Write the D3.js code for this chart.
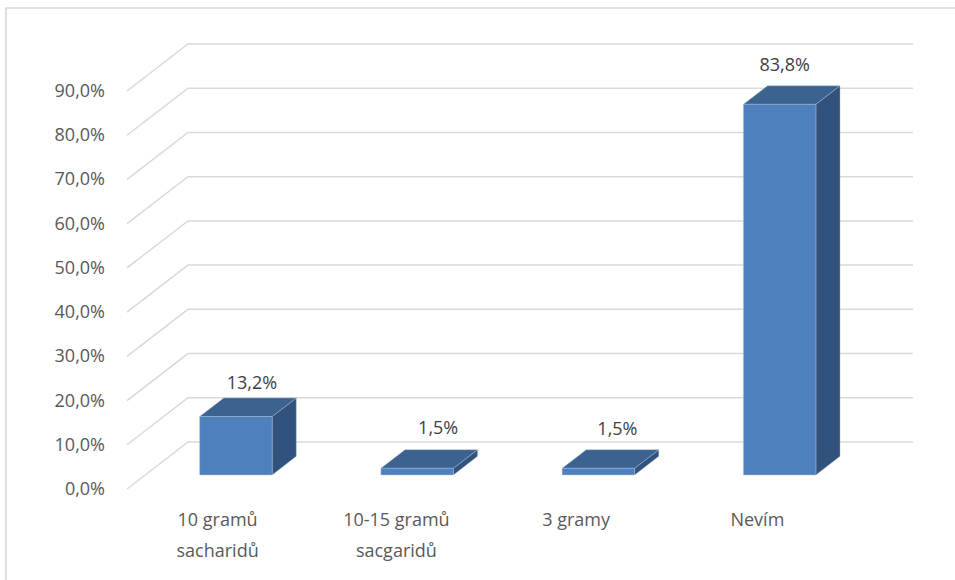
<!DOCTYPE html>
<html lang="cs">
<head>
<meta charset="utf-8">
<title>Sacharidy</title>
<style>
  html, body { margin: 0; padding: 0; background: #fff; }
  svg { display: block; }
  text { font-family: "Open Sans", "Noto Sans", sans-serif; }
</style>
</head>
<body>
<svg id="chart" width="955" height="580"></svg>
<script src="https://cdn.jsdelivr.net/npm/d3@7/dist/d3.min.js"></script>
<script>
// Chart values
const categories = ["10 gramů sacharidů", "10-15 gramů sacgaridů", "3 gramy", "Nevím"];
const categoryLines = [["10 gramů", "sacharidů"], ["10-15 gramů", "sacgaridů"], ["3 gramy"], ["Nevím"]];
const values = [13.2, 1.5, 1.5, 83.8];
const valueLabels = ["13,2%", "1,5%", "1,5%", "83,8%"];
const tickValues = [0, 10, 20, 30, 40, 50, 60, 70, 80, 90];
const tickLabels = ["0,0%", "10,0%", "20,0%", "30,0%", "40,0%", "50,0%", "60,0%", "70,0%", "80,0%", "90,0%"];

// Layout of the oblique projection
const depth = { dx: 61, dy: -47, barFront: 0.3, barBack: 0.695 };
const labelNudge = { x: [16, 21, 19, 5], y: [-9, -16, -15, -15] };
const categoryNudge = [0, -2.5, -4, -4];

const svg = d3.select("#chart");
const x = d3.scaleBand().domain(categories).range([127, 852]).paddingInner(0.6).paddingOuter(0.3);
const y = d3.scaleLinear().domain([0, 90]).range([489, 91]);

// Moves a point on the front plane back by z (0 = front, 1 = back wall)
const project = (px, py, z) => [px + depth.dx * z, py + depth.dy * z];
const pathOf = pts => "M" + pts.map(p => p.join(",")).join("L") + "Z";

// Chart frame: only the top and left edges fall inside the window
svg.append("path")
  .attr("d", "M6,582V8H957")
  .attr("fill", "none").attr("stroke", "#d9d9d9").attr("stroke-width", 1.6);

// Gridlines running along the side wall and then the back wall
svg.append("g").selectAll("path").data(tickValues).join("path")
  .attr("d", v => {
    const a = [x.range()[0], y(v)];
    const b = project(a[0], a[1], 1);
    return `M${a}L${b}H${x.range()[1] + depth.dx}`;
  })
  .attr("fill", "none").attr("stroke", "#d9d9d9").attr("stroke-width", 1.5);

// Value axis labels
svg.append("g").selectAll("text").data(tickValues).join("text")
  .attr("x", 105).attr("y", v => y(v) + 6)
  .attr("text-anchor", "end").attr("font-size", 18).attr("fill", "#595959")
  .text((v, i) => tickLabels[i]);

// Bars: side face, top face, then front face
const bars = svg.append("g").selectAll("g").data(categories).join("g");
const corners = (c, i) => {
  const l = x(c), r = l + x.bandwidth(), t = y(values[i]), b = y(0);
  return { l, r, t, b };
};
const edge = { stroke: "#a9bedb", "stroke-width": 0.6, "stroke-opacity": 0.7 };
const face = (sel, fill, pts) => sel.append("path")
  .attr("d", pts).attr("fill", fill)
  .attr("stroke", edge.stroke).attr("stroke-width", edge["stroke-width"]).attr("stroke-opacity", edge["stroke-opacity"]);

bars.each(function (c, i) {
  const g = d3.select(this), { l, r, t, b } = corners(c, i);
  const f = depth.barFront, k = depth.barBack;
  face(g, "#31527c", pathOf([project(r, t, f), project(r, t, k), project(r, b, k), project(r, b, f)]));
  face(g, "#3c6290", pathOf([project(l, t, f), project(l, t, k), project(r, t, k), project(r, t, f)]));
  face(g, "#4e80bd", pathOf([project(l, t, f), project(r, t, f), project(r, b, f), project(l, b, f)]));
});

// Value labels above each bar
svg.append("g").selectAll("text").data(categories).join("text")
  .attr("x", (c, i) => project(x(c) + x.bandwidth() / 2, 0, depth.barFront)[0] + labelNudge.x[i])
  .attr("y", (c, i) => project(0, y(values[i]), depth.barBack)[1] + labelNudge.y[i])
  .attr("text-anchor", "middle").attr("font-size", 18).attr("fill", "#404040")
  .text((c, i) => valueLabels[i]);

// Category labels under the floor
svg.append("g").selectAll("text").data(categories).join("text")
  .attr("text-anchor", "middle").attr("font-size", 18).attr("fill", "#595959")
  .each(function (c, i) {
    const cx = x(c) + x.bandwidth() / 2 + categoryNudge[i];
    d3.select(this).selectAll("tspan").data(categoryLines[i]).join("tspan")
      .attr("x", cx).attr("y", (d, j) => 526 + j * 30.5).text(d => d);
  });
</script>
</body>
</html>
